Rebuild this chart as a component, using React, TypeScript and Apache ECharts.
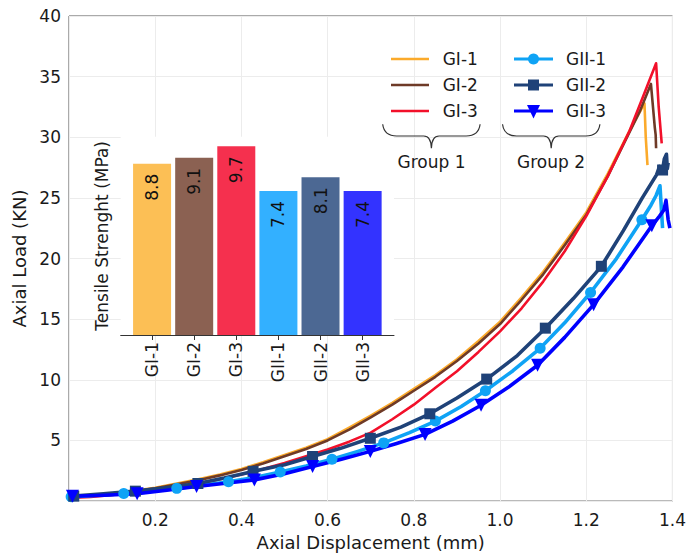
import React, { useEffect, useRef } from 'react';
import * as echarts from 'echarts';

const FONT = "'DejaVu Sans', 'Liberation Sans', sans-serif";

// ---------- Main chart data (Axial Displacement mm -> Axial Load kN) ----------
const gi1X = [0, 0.05, 0.1, 0.15, 0.2, 0.25, 0.3, 0.35, 0.4, 0.45, 0.5, 0.55, 0.6, 0.65, 0.7, 0.75, 0.8, 0.85, 0.9, 0.95, 1.0, 1.05, 1.1, 1.15, 1.2, 1.25, 1.3, 1.335, 1.338, 1.342];
const gi1Y = [0.3, 0.45, 0.62, 0.85, 1.1, 1.45, 1.8, 2.2, 2.65, 3.2, 3.8, 4.4, 5.1, 6.05, 7.05, 8.1, 9.25, 10.4, 11.7, 13.2, 14.8, 16.8, 18.9, 21.3, 23.8, 27.0, 30.5, 32.8, 30.0, 27.7];

const gi2X = [0, 0.05, 0.1, 0.15, 0.2, 0.25, 0.3, 0.35, 0.4, 0.45, 0.5, 0.55, 0.6, 0.65, 0.7, 0.75, 0.8, 0.85, 0.9, 0.95, 1.0, 1.05, 1.1, 1.15, 1.2, 1.25, 1.3, 1.325, 1.35, 1.359, 1.361, 1.362];
const gi2Y = [0.28, 0.42, 0.58, 0.8, 1.05, 1.38, 1.72, 2.12, 2.57, 3.1, 3.7, 4.3, 5.0, 5.9, 6.9, 7.95, 9.1, 10.25, 11.55, 13.0, 14.6, 16.6, 18.7, 21.1, 23.6, 26.8, 30.4, 32.2, 34.4, 30.8, 30.2, 29.1];

const gi3X = [0, 0.05, 0.1, 0.15, 0.2, 0.25, 0.3, 0.35, 0.4, 0.45, 0.5, 0.55, 0.6, 0.65, 0.7, 0.75, 0.8, 0.85, 0.9, 0.95, 1.0, 1.05, 1.1, 1.15, 1.2, 1.25, 1.3, 1.33, 1.362, 1.368, 1.375];
const gi3Y = [0.25, 0.35, 0.5, 0.7, 0.9, 1.15, 1.45, 1.8, 2.2, 2.65, 3.15, 3.7, 4.25, 4.9, 5.65, 6.75, 7.95, 9.35, 10.7, 12.3, 14.0, 15.9, 18.1, 20.6, 23.5, 26.8, 30.5, 33.2, 36.1, 32.5, 29.5];

const gii1X = [0.005, 0.066, 0.127, 0.19, 0.25, 0.31, 0.37, 0.43, 0.49, 0.55, 0.61, 0.67, 0.73, 0.79, 0.85, 0.91, 0.966, 1.03, 1.093, 1.15, 1.21, 1.27, 1.329, 1.35, 1.362, 1.371, 1.377];
const gii1Y = [0.35, 0.48, 0.62, 0.82, 1.05, 1.3, 1.6, 1.95, 2.4, 2.9, 3.45, 4.1, 4.8, 5.65, 6.6, 7.8, 9.1, 10.75, 12.6, 14.7, 17.2, 20.0, 23.2, 24.4, 25.2, 26.0, 22.5];
const gii1Markers = [0, 2, 4, 6, 8, 10, 12, 14, 16, 18, 20, 22];

const gii2X = [0.011, 0.08, 0.154, 0.225, 0.299, 0.36, 0.427, 0.5, 0.565, 0.63, 0.699, 0.77, 0.837, 0.9, 0.969, 1.04, 1.105, 1.17, 1.235, 1.286, 1.33, 1.363, 1.37, 1.377, 1.381, 1.386, 1.388, 1.39];
const gii2Y = [0.41, 0.6, 0.82, 1.1, 1.45, 1.9, 2.45, 3.0, 3.68, 4.35, 5.18, 6.1, 7.2, 8.5, 10.06, 12.0, 14.26, 16.7, 19.36, 22.3, 25.0, 26.9, 27.6, 27.3, 28.2, 28.6, 27.4, 27.9];
const gii2Markers = [0, 2, 4, 6, 8, 10, 12, 14, 16, 18, 23];

const gii3X = [0.008, 0.083, 0.158, 0.227, 0.296, 0.363, 0.43, 0.5, 0.565, 0.632, 0.699, 0.76, 0.826, 0.89, 0.956, 1.02, 1.087, 1.15, 1.217, 1.285, 1.352, 1.37, 1.38, 1.385, 1.39, 1.394];
const gii3Y = [0.4, 0.48, 0.6, 0.9, 1.2, 1.47, 1.75, 2.25, 2.85, 3.45, 4.1, 4.75, 5.5, 6.6, 7.9, 9.4, 11.2, 13.5, 16.2, 19.3, 22.7, 23.5, 24.0, 24.8, 23.2, 22.5];
const gii3Markers = [0, 2, 4, 6, 8, 10, 12, 14, 16, 18, 20];

const seriesNames = ['GI-1', 'GI-2', 'GI-3', 'GII-1', 'GII-2', 'GII-3'];
const lineColors = ['#FBAA2B', '#6E3A27', '#F2102A', '#0FA3F5', '#1F4278', '#0000FF'];

// ---------- Inset bar chart ----------
const barCategories = ['GI-1', 'GI-2', 'GI-3', 'GII-1', 'GII-2', 'GII-3'];
const barValues = [8.8, 9.1, 9.7, 7.4, 8.1, 7.4];
const barColors = ['#FCBF55', '#8B6152', '#F5304E', '#33B0FF', '#4C6893', '#3333FF'];

const BRACE_D =
  'M0,0 C1,8 5,11.7 14,11.7 L41,11.7 C46,11.7 48.5,15 48.7,24 C48.9,15 51.4,11.7 56.4,11.7 L83.4,11.7 C92.4,11.7 96.4,8 97.4,0';
echarts.graphic.registerShape('brace', echarts.graphic.extendPath(BRACE_D, {}));

const pairs = (xs: number[], ys: number[]) => xs.map((x, i) => [x, ys[i]]);
const marked = (xs: number[], ys: number[], markers: number[], sym: string) =>
  xs.map((x, i) => ({ value: [x, ys[i]], symbol: markers.includes(i) ? sym : 'none' }));

const TEXT = '#1a1a1a';

function buildOption() {
  const giLine = (name: string, data: number[][], color: string) => ({
    name,
    type: 'line',
    xAxisIndex: 0,
    yAxisIndex: 0,
    data,
    showSymbol: false,
    symbol: 'none',
    lineStyle: { color, width: 2.6, join: 'round' },
    itemStyle: { color },
    emphasis: { disabled: true },
  });
  const giiLine = (name: string, data: any[], color: string, sym: string, size: number, rotate = 0) => ({
    name,
    type: 'line',
    xAxisIndex: 0,
    yAxisIndex: 0,
    data,
    symbol: sym,
    symbolSize: size,
    symbolRotate: rotate,
    showSymbol: true,
    showAllSymbol: true,
    lineStyle: { color, width: 3.6, join: 'round' },
    itemStyle: { color },
    emphasis: { disabled: true },
  });

  const legendRowsY = [59, 85, 111];
  const graphic: any[] = [
    {
      type: 'rect',
      z: 1,
      silent: true,
      shape: { x: 120.7, y: 136.7, width: 273.3, height: 198.3 },
      style: { fill: '#ffffff' },
    },
  ];
  // legend column 1 (GI)
  for (let i = 0; i < 3; i++) {
    const y = legendRowsY[i];
    graphic.push({ type: 'line', z: 5, shape: { x1: 391, y1: y, x2: 429, y2: y }, style: { stroke: lineColors[i], lineWidth: 2.5 } });
    graphic.push({
      type: 'text', z: 5, x: 442.7, y,
      style: { text: seriesNames[i], fontSize: 17, fontFamily: FONT, fill: TEXT, align: 'left', verticalAlign: 'middle' },
    });
  }
  // legend column 2 (GII)
  for (let i = 0; i < 3; i++) {
    const y = legendRowsY[i];
    graphic.push({ type: 'line', z: 5, shape: { x1: 514, y1: y, x2: 553, y2: y }, style: { stroke: lineColors[3 + i], lineWidth: 3 } });
    graphic.push({
      type: 'text', z: 5, x: 566, y,
      style: { text: seriesNames[3 + i], fontSize: 17, fontFamily: FONT, fill: TEXT, align: 'left', verticalAlign: 'middle' },
    });
  }
  graphic.push({ type: 'circle', z: 6, shape: { cx: 533.5, cy: legendRowsY[0], r: 5.5 }, style: { fill: lineColors[3] } });
  graphic.push({ type: 'rect', z: 6, shape: { x: 528, y: legendRowsY[1] - 5.5, width: 11, height: 11 }, style: { fill: lineColors[4] } });
  graphic.push({
    type: 'polygon', z: 6,
    shape: { points: [[527, legendRowsY[2] - 6], [540, legendRowsY[2] - 6], [533.5, legendRowsY[2] + 7.5]] },
    style: { fill: lineColors[5] },
  });
  // braces and group labels
  graphic.push({ type: 'brace', z: 5, x: 382.7, y: 124.3, style: { stroke: '#333', fill: 'none', lineWidth: 1.2 } });
  graphic.push({ type: 'brace', z: 5, x: 502.5, y: 124.3, style: { stroke: '#333', fill: 'none', lineWidth: 1.2 } });
  graphic.push({
    type: 'text', z: 5, x: 431.5, y: 161.5,
    style: { text: 'Group 1', fontSize: 17, fontFamily: FONT, fill: TEXT, align: 'center', verticalAlign: 'middle' },
  });
  graphic.push({
    type: 'text', z: 5, x: 551, y: 161.5,
    style: { text: 'Group 2', fontSize: 17, fontFamily: FONT, fill: TEXT, align: 'center', verticalAlign: 'middle' },
  });

  return {
    animation: false,
    backgroundColor: '#ffffff',
    textStyle: { fontFamily: FONT },
    grid: [
      { left: 69, right: 12, top: 16, bottom: 51, show: true, borderColor: '#555', borderWidth: 1, backgroundColor: 'transparent' },
      { left: 120.7, top: 136.7, width: 273.3, height: 198.3, show: false },
    ],
    xAxis: [
      {
        type: 'value',
        gridIndex: 0,
        min: 0,
        max: 1.4,
        interval: 0.2,
        axisLine: { show: false },
        axisTick: { show: false },
        axisLabel: {
          fontSize: 17,
          color: TEXT,
          margin: 10,
          fontFamily: FONT,
          formatter: (v: number) => (v === 0 ? '' : v.toFixed(1)),
        },
        splitLine: { show: true, lineStyle: { color: '#ececec', width: 1 } },
        name: 'Axial Displacement (mm)',
        nameLocation: 'middle',
        nameGap: 31,
        nameTextStyle: { fontSize: 18, color: TEXT, fontFamily: FONT },
      },
      {
        type: 'value',
        gridIndex: 1,
        min: -0.745,
        max: 5.745,
        z: 3,
        axisLine: { show: true, lineStyle: { color: '#333', width: 1 } },
        axisTick: { show: true, customValues: [0, 1, 2, 3, 4, 5], length: 5, lineStyle: { color: '#333' } },
        axisLabel: {
          customValues: [0, 1, 2, 3, 4, 5],
          formatter: (v: number) => barCategories[Math.round(v)] ?? '',
          rotate: 90,
          fontSize: 17,
          color: TEXT,
          margin: 7,
          fontFamily: FONT,
        },
        splitLine: { show: false },
      },
    ],
    yAxis: [
      {
        type: 'value',
        gridIndex: 0,
        min: 0,
        max: 40,
        interval: 5,
        axisLine: { show: false },
        axisTick: { show: false },
        axisLabel: {
          fontSize: 17,
          color: TEXT,
          margin: 8,
          fontFamily: FONT,
          formatter: (v: number) => (v === 0 ? '' : String(v)),
        },
        splitLine: { show: true, lineStyle: { color: '#ececec', width: 1 } },
        name: 'Axial Load (KN)',
        nameLocation: 'middle',
        nameGap: 38,
        nameTextStyle: { fontSize: 18, color: TEXT, fontFamily: FONT },
      },
      {
        type: 'value',
        gridIndex: 1,
        min: 0,
        max: 10.185,
        z: 3,
        axisLine: { show: false },
        axisTick: { show: false },
        axisLabel: { show: false },
        splitLine: { show: false },
        name: 'Tensile Strenght (MPa)',
        nameLocation: 'middle',
        nameGap: 10,
        nameTextStyle: { fontSize: 17, color: TEXT, fontFamily: FONT },
      },
    ],
    series: [
      giLine('GI-1', pairs(gi1X, gi1Y), lineColors[0]),
      giLine('GI-2', pairs(gi2X, gi2Y), lineColors[1]),
      giLine('GI-3', pairs(gi3X, gi3Y), lineColors[2]),
      giiLine('GII-1', marked(gii1X, gii1Y, gii1Markers, 'circle'), lineColors[3], 'circle', 11),
      giiLine('GII-2', marked(gii2X, gii2Y, gii2Markers, 'rect'), lineColors[4], 'rect', 11),
      giiLine('GII-3', marked(gii3X, gii3Y, gii3Markers, 'triangle'), lineColors[5], 'triangle', 13, 180),
      {
        name: 'Tensile Strength',
        type: 'bar',
        xAxisIndex: 1,
        yAxisIndex: 1,
        barWidth: 38,
        z: 3,
        data: barValues.map((v, i) => ({ value: [i, v], itemStyle: { color: barColors[i] } })),
        label: {
          show: true,
          position: 'insideTop',
          distance: 10,
          rotate: 90,
          align: 'right',
          verticalAlign: 'middle',
          fontSize: 17,
          color: '#111',
          fontFamily: FONT,
          formatter: (p: any) => Number(p.value[1]).toFixed(1),
        },
        emphasis: { disabled: true },
      },
    ],
    graphic,
  };
}

export default function App() {
  const ref = useRef<HTMLDivElement>(null);
  useEffect(() => {
    document.body.style.margin = '0';
    const chart = echarts.init(ref.current!, undefined, { renderer: 'svg' });
    chart.setOption(buildOption() as any);
    return () => chart.dispose();
  }, []);
  return <div ref={ref} style={{ width: 689, height: 556 }} />;
}
